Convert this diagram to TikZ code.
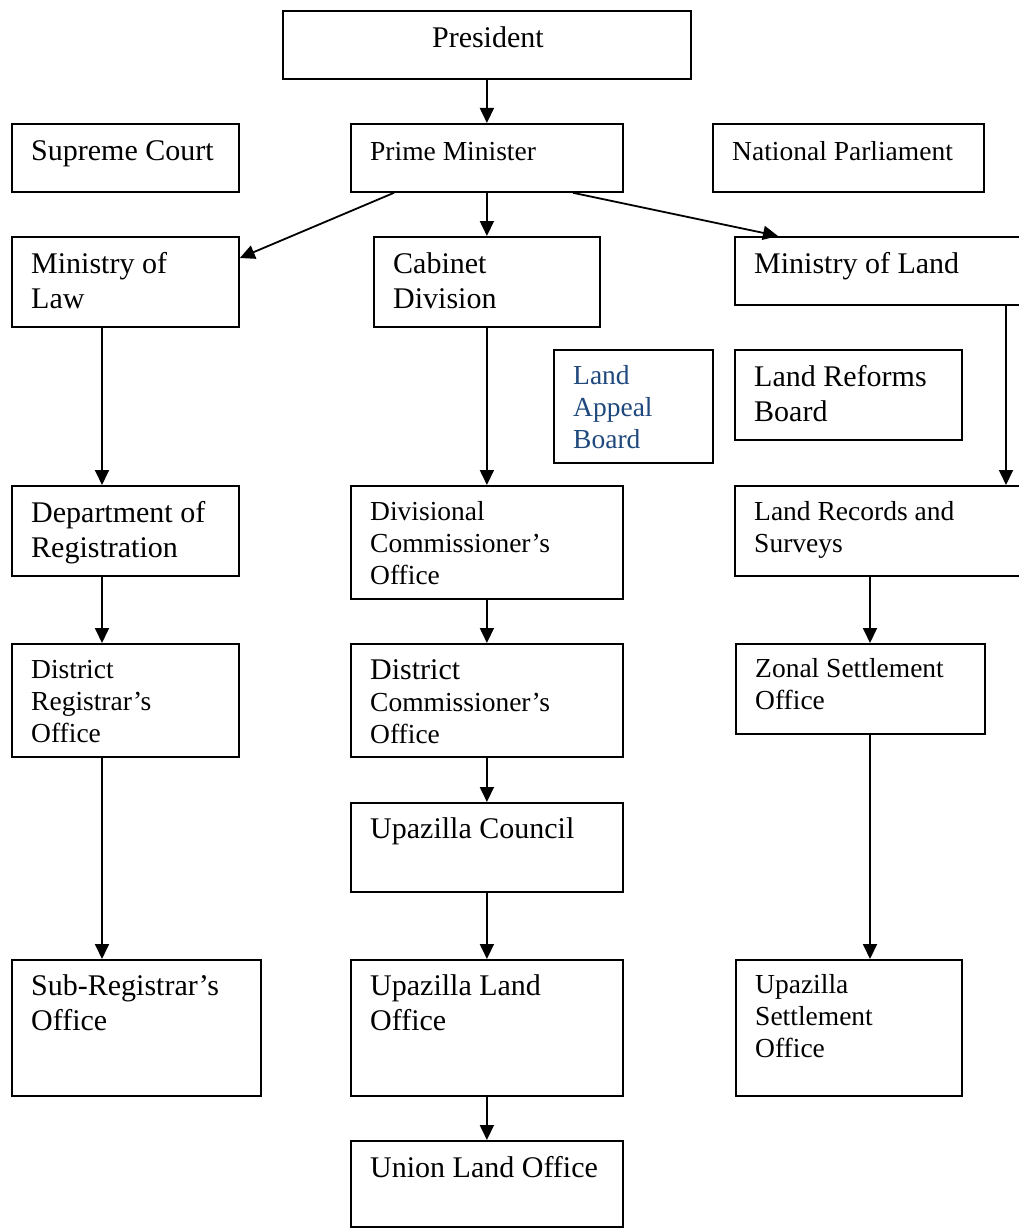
\documentclass[tikz,border=0pt]{standalone}
\usepackage{fontspec}
\setmainfont{Liberation Serif}
\usetikzlibrary{arrows.meta}
\definecolor{appealblue}{HTML}{1F497D}
\newcommand{\FontBig}{\fontsize{30}{35}\selectfont}
\newcommand{\FontSmall}{\fontsize{27.5}{32}\selectfont}
\newcommand{\bx}[5]{\node[box, anchor=north west, minimum width={(#4-#2)*1pt}, minimum height={(#5-#3)*1pt}] (#1) at (#2,#3) {};}
% #1 box name, #2 baseline offset, #3 text
\newcommand{\tx}[3]{\node[txt, anchor=base west] (#1-t) at ([shift={(20,#2)}]#1.north west) {\parbox[t]{400pt}{\leavevmode\raggedright #3}};}
\begin{document}
\begin{tikzpicture}[x=1pt, y=-1pt,
  box/.style={draw=black, line width=1.8pt, fill=white, inner sep=0pt},
  txt/.style={inner sep=0pt, text=black},
  arr/.style={line width=1.8pt, -{Triangle[length=15pt,width=14pt]}}]
\useasboundingbox (0,0) rectangle (1018,1228);
% boxes
\bx{pres}{282}{10}{690}{78}
\bx{sc}{11}{123}{238}{191}
\bx{pm}{350}{123}{622}{191}
\bx{np}{712}{123}{983}{191}
\bx{minlaw}{11}{236}{238}{326}
\bx{cab}{373}{236}{599}{326}
\bx{minland}{734}{236}{1040}{304}
\bx{lab}{553}{349}{712}{462}
\bx{lrb}{734}{349}{961}{439}
\bx{dept}{11}{485}{238}{575}
\bx{div}{350}{485}{622}{598}
\bx{lrs}{734}{485}{1040}{575}
\bx{distreg}{11}{643}{238}{756}
\bx{distcomm}{350}{643}{622}{756}
\bx{zonal}{735}{643}{984}{733}
\bx{upcouncil}{350}{802}{622}{891}
\bx{subreg}{11}{959}{260}{1095}
\bx{upland}{350}{959}{622}{1095}
\bx{upsett}{735}{959}{961}{1095}
\bx{union}{350}{1140}{622}{1226}
% texts
\node[txt, anchor=base] (pres-t) at ([shift={(1,38)}]pres.north) {\FontBig President};
\tx{sc}{37}{\FontBig Supreme Court}
\tx{pm}{37}{\FontSmall Prime Minister}
\tx{np}{37}{\FontSmall National Parliament}
\tx{minlaw}{37}{\FontBig Ministry of\\Law}
\tx{cab}{37}{\FontBig Cabinet\\Division}
\tx{minland}{37}{\FontBig Ministry of Land}
\tx{lab}{35}{\color{appealblue}\FontSmall Land\\Appeal\\Board}
\tx{lrb}{37}{\FontBig Land Reforms\\Board}
\tx{dept}{37}{\FontBig Department of\\Registration}
\tx{div}{35}{\FontSmall Divisional\\Commissioner’s\\Office}
\tx{lrs}{35}{\FontSmall Land Records and\\Surveys}
\tx{distreg}{35}{\FontSmall District\\Registrar’s\\Office}
\tx{distcomm}{36}{\FontBig District\\\FontSmall Commissioner’s\\Office}
\tx{zonal}{34}{\FontSmall Zonal Settlement\\Office}
\tx{upcouncil}{36}{\FontBig Upazilla Council}
\tx{subreg}{36}{\FontBig Sub-Registrar’s\\Office}
\tx{upland}{36}{\FontBig Upazilla Land\\Office}
\tx{upsett}{34}{\FontSmall Upazilla\\Settlement\\Office}
\tx{union}{37}{\FontBig Union Land Office}
% connectors
\draw[arr] (pres.south) -- (pm.north);
\draw[arr] ([xshift=44pt]pm.south west) -- ([yshift=-22pt]minlaw.north east);
\draw[arr] (pm.south) -- (cab.north);
\draw[arr] ([xshift=223pt]pm.south west) -- ([xshift=44pt]minland.north west);
\draw[arr] ([xshift=91pt]minlaw.south west) -- ([xshift=91pt]dept.north west);
\draw[arr] (cab.south) -- (div.north);
\draw[arr] ([xshift=272pt]minland.south west) -- ([xshift=272pt]lrs.north west);
\draw[arr] ([xshift=91pt]dept.south west) -- ([xshift=91pt]distreg.north west);
\draw[arr] (div.south) -- (distcomm.north);
\draw[arr] ([xshift=136pt]lrs.south west) -- ([xshift=135pt]zonal.north west);
\draw[arr] ([xshift=91pt]distreg.south west) -- ([xshift=91pt]subreg.north west);
\draw[arr] (distcomm.south) -- (upcouncil.north);
\draw[arr] ([xshift=135pt]zonal.south west) -- ([xshift=135pt]upsett.north west);
\draw[arr] (upcouncil.south) -- (upland.north);
\draw[arr] (upland.south) -- (union.north);
\end{tikzpicture}
\end{document}
